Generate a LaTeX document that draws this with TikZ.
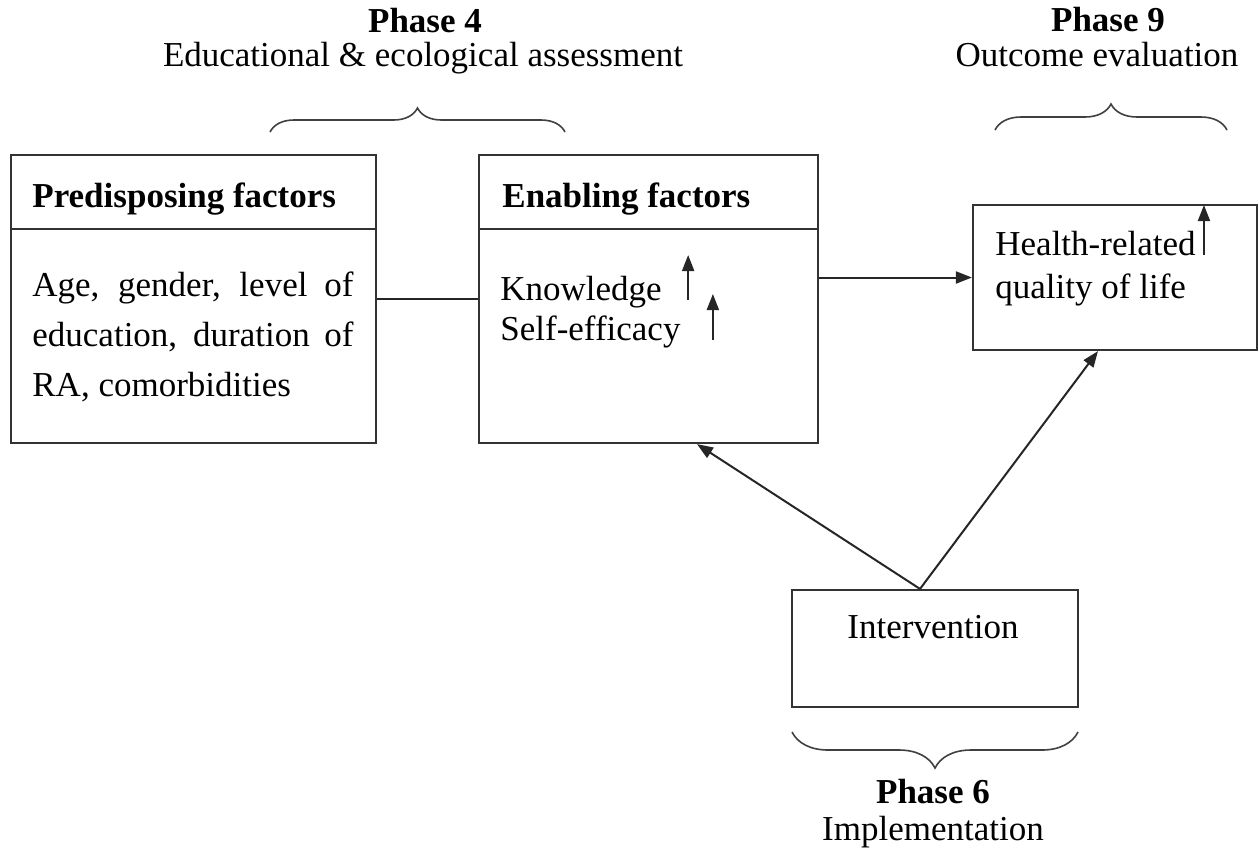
\documentclass[tikz,border=0pt]{standalone}
\usepackage{fontspec}
\setmainfont{Liberation Serif}
\usetikzlibrary{positioning,arrows.meta,calc,decorations.pathreplacing}

\begin{document}
\begin{tikzpicture}[x=0.5pt,y=-0.5pt,
  font=\fontsize{17.5}{25}\selectfont,
  box/.style={draw=black!80,line width=1.1pt,inner sep=0pt},
  txt/.style={inner sep=0pt,anchor=base west},
  lbl/.style={inner sep=0pt,anchor=base},
  link/.style={draw=black!85,line width=1pt},
  tip/.style={link,-{Triangle[length=8pt,width=6pt]}},
  brc/.style={draw=black!75,line width=0.8pt,decorate,decoration={brace,amplitude=#1}}]
  \useasboundingbox (0,0) rectangle (1259,859);

  % boxes
  \node[box,minimum width=182.5pt,minimum height=144pt] (pre) at (193.5,299) {};
  \node[box,minimum width=169.5pt,minimum height=144pt] (ena) at (648.5,299) {};
  \node[box,minimum width=142pt,minimum height=72.5pt] (hrq) at (1115,277.5) {};
  \node[box,minimum width=143pt,minimum height=58.5pt] (int) at (935,648.5) {};
  % header rules
  \draw[box] ($(pre.north west)+(0,75)$) -- ($(pre.north east)+(0,75)$);
  \draw[box] ($(ena.north west)+(0,75)$) -- ($(ena.north east)+(0,75)$);

  % box texts
  \node[txt] (preHead) at (32,207) {\textbf{Predisposing factors}};
  \node[txt,anchor=north west,align=left] (preBody) at (32,271)
    {\makebox[160.5pt][s]{Age, gender, level of}\\
     \makebox[160.5pt][s]{education, duration of}\\
     RA, comorbidities};
  \node[txt] (enaHead) at (502,207) {\textbf{Enabling factors}};
  \node[txt] (know) at (500,300) {Knowledge};
  \node[txt] (self) at (500,340) {Self-efficacy};
  \node[txt] (hr1) at (995,255) {Health-related};
  \node[txt] (hr2) at (995,298) {quality of life};
  \node[lbl] (intText) at (933,638) {Intervention};

  % increase markers
  \draw[tip] ([xshift=13pt]know.base east) -- ++(0,-45);
  \draw[tip] ([xshift=16pt]self.base east) -- ++(0,-46);
  \draw[tip] ([xshift=4pt]hr1.base east) -- ++(0,-50);

  % connectors
  \draw[link] (pre.east) -- (ena.west);
  \draw[tip] (ena.east |- hrq.west) -- (hrq.west);
  \coordinate (apex) at ($(int.north)+(-15,0)$);
  \draw[tip] (apex) -- ($(ena.south)+(48.5,0)$);
  \draw[tip] (apex) -- ($(hrq.south)+(-17,0)$);

  % phases
  \draw[brc=12pt] (270,132) -- (565,132);
  \node[lbl] (ph4) at (425,32) {\textbf{Phase 4}};
  \node[lbl] (ph4Text) at (423,66) {Educational \& ecological assessment};
  \draw[brc=13pt] (995,130) -- (1227,130);
  \node[lbl] (ph9) at (1108,31) {\textbf{Phase 9}};
  \node[lbl] (ph9Text) at (1097,66) {Outcome evaluation};
  \draw[brc=18pt] (1078,732) -- (792,732);
  \node[lbl] (ph6) at (933,803) {\textbf{Phase 6}};
  \node[lbl] (ph6Text) at (933,840) {Implementation};
\end{tikzpicture}
\end{document}
